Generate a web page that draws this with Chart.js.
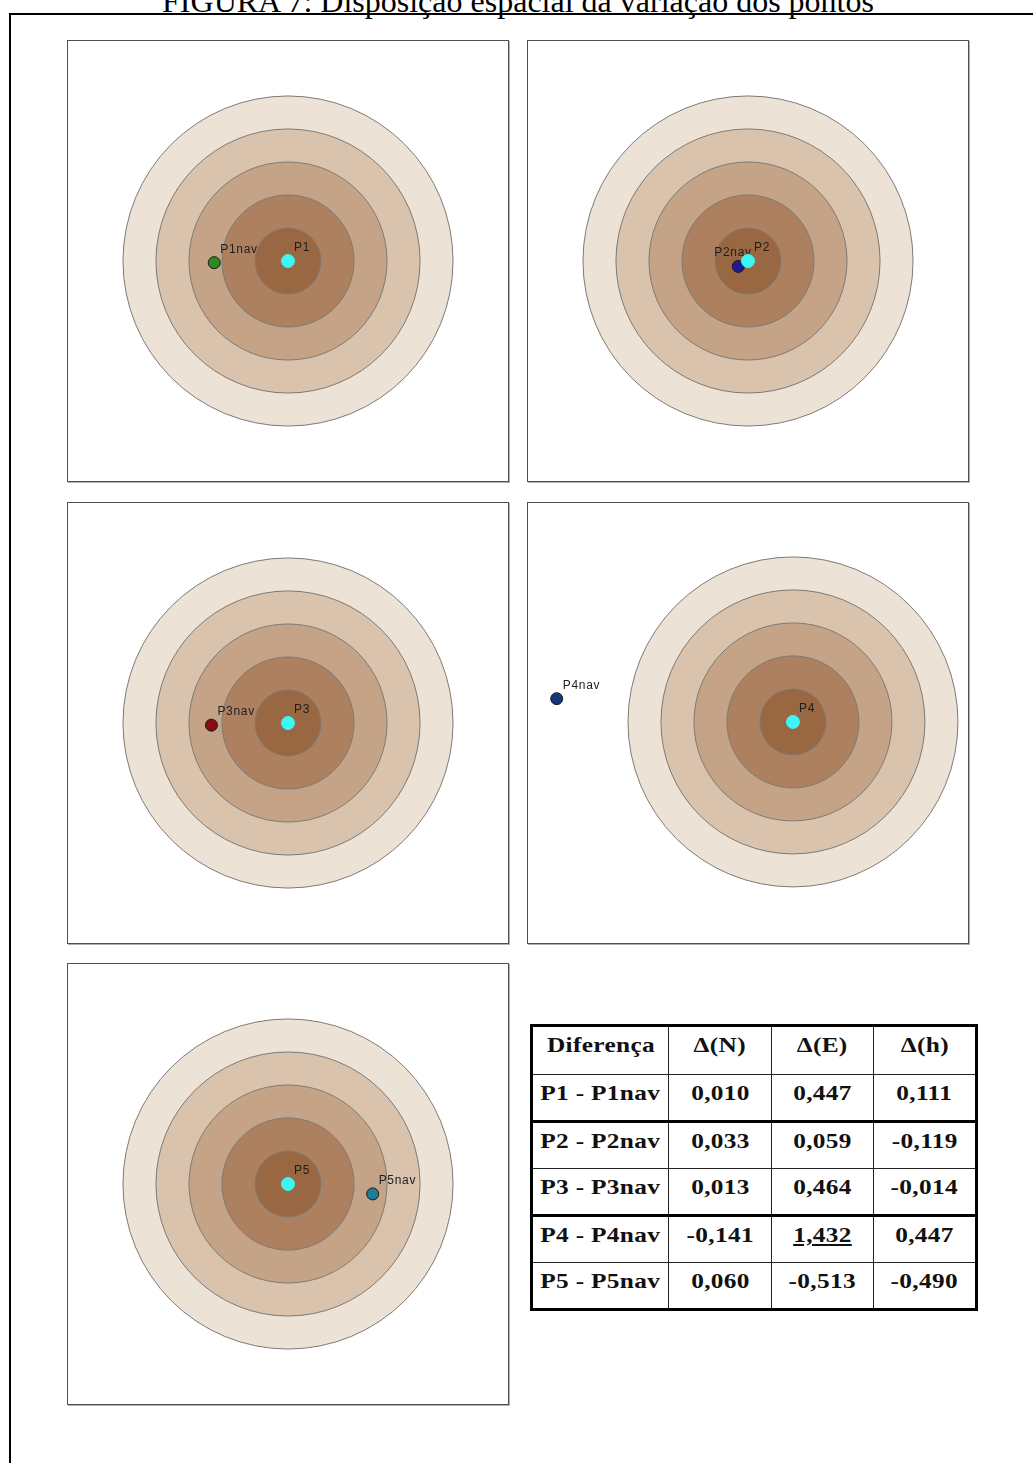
<!DOCTYPE html>
<html>
<head>
<meta charset="utf-8">
<script src="https://cdn.jsdelivr.net/npm/chart.js@4.4.1/dist/chart.umd.min.js"></script>
<style>
    body { margin: 0; background: #fff; width: 1033px; height: 1463px; overflow: hidden; position: relative; }
    #frame { position: absolute; left: 9px; top: 13px; width: 1200px; height: 1600px; border-left: 2px solid #000; border-top: 2px solid #000; }
    #title { position: absolute; left: 0; top: -14px; width: 1036px; text-align: center; font: 32px/30px "Liberation Serif", "Times New Roman", serif; color: #000; }
    .panel { position: absolute; width: 440px; height: 440px; border: 1px solid #505050; box-shadow: 1px 1px 0 #b0b0b0; background: #fff; }
    .panel canvas { display: block; }
    #diffTable { position: absolute; left: 530px; top: 1024px; border-collapse: collapse; table-layout: fixed; border: 3px solid #000; background: #fff; }
    #diffTable td { border: 1px solid #222; padding: 7px 0 0 0; vertical-align: top; text-align: center; height: 38px; font: bold 22px/22px "Liberation Serif", "Times New Roman", serif; letter-spacing: 0.3px; color: #111; }
    #diffTable tr.head td { height: 40px; }
    #diffTable tr.thick td { border-bottom: 3px solid #000; }
    #diffTable td span { display: inline-block; transform: scaleX(1.15); transform-origin: center; }
</style>
</head>
<body>
<div id="frame"></div>
<div id="title">FIGURA 7: Disposição espacial da variação dos pontos</div>
<table id="diffTable">
    <colgroup><col style="width:137px"><col style="width:103px"><col style="width:102px"><col style="width:103px"></colgroup>
    <tbody id="tbody"></tbody>
</table>
<script>
// differences P - Pnav, metres
const pointNames = ['P1', 'P2', 'P3', 'P4', 'P5'];
const navNames = ['P1nav', 'P2nav', 'P3nav', 'P4nav', 'P5nav'];
const deltaN = [0.010, 0.033, 0.013, -0.141, 0.060];
const deltaE = [0.447, 0.059, 0.464, 1.432, -0.513];
const deltaH = [0.111, -0.119, -0.014, 0.447, -0.490];
const tableHeaders = ['Diferença', 'Δ(N)', 'Δ(E)', 'Δ(h)'];

// buffer rings around each point, metres
const ringRadii = [1.0, 0.8, 0.6, 0.4, 0.2];

// styles
const ringColors = ['#ece2d5', '#d9c3ad', '#c4a386', '#ad8160', '#9a6743'];
const navColors = ['#2b8a22', '#1c1c92', '#8c0c16', '#17357d', '#1d7d98'];
const refColor = '#3ef4f4';

// panel boxes and visible window (metres) of each map
const panels = [
    { left: 67, top: 40, x: [-1.333, 1.333], y: [-1.333, 1.333] },
    { left: 527, top: 40, x: [-1.333, 1.333], y: [-1.333, 1.333] },
    { left: 67, top: 502, x: [-1.333, 1.333], y: [-1.333, 1.333] },
    { left: 527, top: 502, x: [-1.606, 1.061], y: [-1.340, 1.327] },
    { left: 67, top: 963, x: [-1.333, 1.333], y: [-1.333, 1.333] }
];
const labelOffsets = { P2nav: [-24, -10] };

const fmt = v => v.toFixed(3).replace('.', ',');

// table
const tbody = document.getElementById('tbody');
const maxAbs = Math.max(...deltaE.map(Math.abs), ...deltaN.map(Math.abs), ...deltaH.map(Math.abs));
tbody.insertAdjacentHTML('beforeend',
    '<tr class="head">' + tableHeaders.map(h => `<td><span>${h}</span></td>`).join('') + '</tr>');
pointNames.forEach((p, i) => {
    const cells = [deltaN[i], deltaE[i], deltaH[i]].map(v => {
        const txt = fmt(v);
        return Math.abs(v) === maxAbs ? `<td><span><u>${txt}</u></span></td>` : `<td><span>${txt}</span></td>`;
    });
    const cls = (i === 0 || i === 2) ? ' class="thick"' : '';
    tbody.insertAdjacentHTML('beforeend',
        `<tr${cls}><td><span>${p} - ${navNames[i]}</span></td>${cells.join('')}</tr>`);
});

const pointLabels = {
    id: 'pointLabels',
    afterDatasetDraw(chart, args, opts) {
        if (!chart.data.datasets[args.index].innerRing) return;
        const { ctx, scales: { x, y } } = chart;
        ctx.save();
        ctx.font = '12px "Liberation Sans", Arial, sans-serif';
        ctx.fillStyle = '#1e1e1e';
        ctx.letterSpacing = '0.7px';
        opts.items.forEach(it => {
            const off = labelOffsets[it.text] || [6, -10];
            ctx.fillText(it.text, x.getPixelForValue(it.x) + off[0], y.getPixelForValue(it.y) + off[1]);
        });
        ctx.restore();
    }
};

panels.forEach((pan, i) => {
    const div = document.createElement('div');
    div.className = 'panel';
    div.style.left = pan.left + 'px';
    div.style.top = pan.top + 'px';
    const canvas = document.createElement('canvas');
    canvas.width = 440;
    canvas.height = 440;
    div.appendChild(canvas);
    document.body.appendChild(div);

    const navPt = { x: -deltaE[i], y: -deltaN[i] };
    const refPt = { x: 0, y: 0 };

    const ringRadius = r => ctx => Math.abs(ctx.chart.scales.x.getPixelForValue(r) - ctx.chart.scales.x.getPixelForValue(0));
    const ringSets = ringRadii.map((r, k) => ({
        label: 'buffer ' + r,
        data: [refPt],
        innerRing: k === ringRadii.length - 1,
        order: 20 - k,
        backgroundColor: ringColors[k],
        borderColor: '#7d7a76',
        borderWidth: 1,
        pointRadius: ringRadius(r),
        pointHoverRadius: ringRadius(r)
    }));

    new Chart(canvas.getContext('2d'), {
        type: 'scatter',
        data: {
            datasets: [
                ...ringSets,
                {
                    label: navNames[i],
                    data: [navPt],
                    order: 2,
                    backgroundColor: navColors[i],
                    borderColor: '#1a1a1a',
                    borderWidth: 1,
                    pointRadius: 6
                },
                {
                    label: pointNames[i],
                    data: [refPt],
                    order: 1,
                    backgroundColor: refColor,
                    borderColor: refColor,
                    borderWidth: 1,
                    pointRadius: 6.5
                }
            ]
        },
        options: {
            responsive: false,
            animation: false,
            events: [],
            layout: { padding: 0, autoPadding: false },
            scales: {
                x: { type: 'linear', display: false, min: pan.x[0], max: pan.x[1] },
                y: { type: 'linear', display: false, min: pan.y[0], max: pan.y[1] }
            },
            plugins: {
                legend: { display: false },
                tooltip: { enabled: false },
                pointLabels: {
                    items: [
                        { text: navNames[i], x: navPt.x, y: navPt.y },
                        { text: pointNames[i], x: 0, y: 0 }
                    ]
                }
            }
        },
        plugins: [pointLabels]
    });
});
</script>
</body>
</html>
